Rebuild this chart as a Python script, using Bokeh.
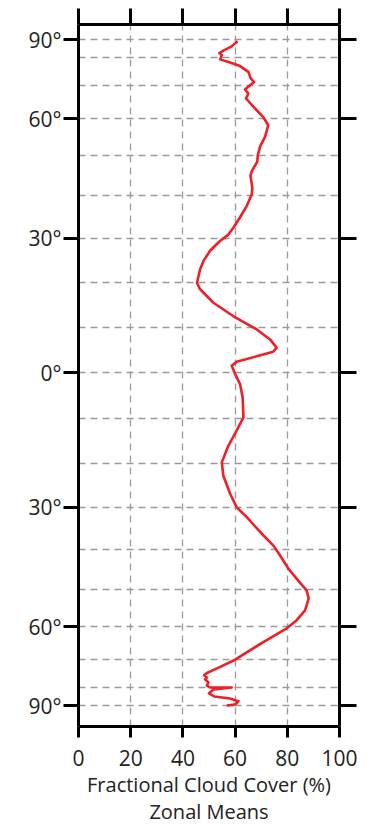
import numpy as np
from bokeh.plotting import figure
from bokeh.models import Range1d, FixedTicker, LinearAxis, Title
from bokeh.embed import file_html
from bokeh.resources import INLINE

# ---- data: latitude (deg, + north) and zonal mean fractional cloud cover (%) ----
latitude = [88.5, 87.0, 85.3, 83.2, 82.1, 81.1, 79.4, 78.2, 76.8, 74.7, 72.4, 71.2, 70.0,
            68.8, 67.5, 66.0, 63.5, 60.5, 58.2, 55.1, 52.5, 50.2, 48.5, 46.1, 44.9, 42.0,
            40.4, 37.6, 34.9, 32.5, 30.7, 29.4, 27.1, 24.8, 22.9, 19.8, 18.4, 15.4, 12.4,
            9.5, 7.3, 5.5, 4.6, 3.6, 2.4, 1.5, 0.0, -2.5, -5.5, -9.8, -12.7, -16.1, -19.8,
            -22.8, -26.9, -30.0, -32.3, -35.8, -39.0, -41.4, -44.7, -47.7, -50.2, -52.3,
            -55.5, -58.2, -60.5, -64.5, -70.0, -72.4, -74.5, -75.3, -76.1, -76.8, -78.0,
            -79.2, -80.0, -80.0, -80.8, -82.5, -84.0, -85.0, -86.5, -88.0, -89.0, -89.6]
cloud_cover = [61.0, 60.0, 58.7, 55.5, 54.0, 54.9, 54.3, 58.1, 61.9, 65.1, 66.0, 67.3, 65.5,
               63.8, 65.1, 64.2, 67.0, 70.8, 72.7, 71.5, 69.6, 68.7, 68.5, 66.4, 65.9, 66.6,
               66.4, 64.5, 61.9, 59.4, 57.2, 54.3, 50.4, 47.9, 46.6, 45.4, 46.6, 51.7, 59.4,
               68.3, 73.4, 75.9, 74.6, 68.3, 60.6, 58.7, 59.8, 61.9, 62.9, 63.2, 60.6, 57.4, 54.9,
               55.5, 58.1, 60.6, 64.5, 69.6, 74.6, 77.2, 80.4, 84.2, 87.4, 88.2,
               86.8, 83.6, 79.8, 70.8, 60.0, 54.3, 49.2, 48.1, 49.2, 48.5, 49.8,
               49.2, 50.4, 58.7, 51.7, 50.0, 52.0, 58.0, 61.3, 60.5, 59.3, 56.8]

lat_ticks = [90, 60, 30, 0, -30, -60, -90]
lat_tick_labels = ["90°", "60°", "30°", "0°", "30°", "60°", "90°"]
lat_grid = list(range(-90, 91, 10))
x_ticks = [0, 20, 40, 60, 80, 100]
x_grid = [20, 40, 60, 80]
x_title_lines = ["Fractional Cloud Cover (%)", "Zonal Means"]


def mollweide(lat_deg):
    """Mollweide projection y (= sin(theta)) for latitudes in degrees."""
    out = []
    for la in np.atleast_1d(lat_deg):
        target = np.pi * np.sin(np.radians(la))
        lo, hi = -np.pi, np.pi
        for _ in range(80):
            mid = 0.5 * (lo + hi)
            if mid + np.sin(mid) < target:
                lo = mid
            else:
                hi = mid
        out.append(float(np.sin(0.25 * (lo + hi))))
    return out


y_vals = mollweide(latitude)
y_ticks = mollweide(lat_ticks)
y_grid = mollweide(lat_grid)

p = figure(width=367, height=825, output_backend="svg", toolbar_location=None,
           x_range=Range1d(0, 100), y_range=Range1d(-1.0625, 1.0457),
           x_axis_location=None, y_axis_location=None,
           min_border_left=78, min_border_right=28, min_border_top=24, min_border_bottom=99)
p.outline_line_color = None
p.background_fill_color = "white"
p.border_fill_color = "white"

FONT = "Open Sans"
TXT = "#222222"

# bottom axis
xb = LinearAxis(ticker=FixedTicker(ticks=x_ticks))
xb.major_label_text_font = FONT
xb.major_label_text_font_size = "21px"
xb.major_label_text_color = TXT
xb.major_label_standoff = 12
# top axis (ticks only)
xt = LinearAxis(ticker=FixedTicker(ticks=x_ticks))
xt.major_label_overrides = {t: "" for t in x_ticks}
xt.major_label_text_font_size = "1px"
xt.major_label_standoff = 0
# left axis
yl = LinearAxis(ticker=FixedTicker(ticks=y_ticks))
yl.major_label_overrides = {t: s for t, s in zip(y_ticks, lat_tick_labels)}
yl.major_label_text_font = FONT
yl.major_label_text_font_size = "21px"
yl.major_label_text_color = TXT
yl.major_label_standoff = 2
# right axis (ticks only)
yr = LinearAxis(ticker=FixedTicker(ticks=y_ticks))
yr.major_label_overrides = {t: "" for t in y_ticks}
yr.major_label_text_font_size = "1px"
yr.major_label_standoff = 0

for ax, tout in ((xb, 11), (xt, 16), (yl, 15), (yr, 17)):
    ax.axis_line_width = 3
    ax.axis_line_color = "black"
    ax.major_tick_line_width = 3
    ax.major_tick_line_color = "black"
    ax.major_tick_out = tout
    ax.major_tick_in = 0
    ax.minor_tick_line_color = None

p.add_layout(xb, "below")
for line, so in zip(x_title_lines, (1, -6)):
    p.add_layout(Title(text=line, align="center", text_font=FONT, text_font_size="20px",
                       text_font_style="normal", text_color=TXT, standoff=so, offset=0), "below")
p.add_layout(xt, "above")
p.add_layout(yl, "left")
p.add_layout(yr, "right")

p.xgrid.ticker = FixedTicker(ticks=x_grid)
p.ygrid.ticker = FixedTicker(ticks=y_grid)
for g in (p.xgrid, p.ygrid):
    g.grid_line_color = "#9a9a9a"
    g.grid_line_dash = "7 5"
    g.grid_line_width = 1.3

p.line(cloud_cover, y_vals, line_color="#ee1f26", line_width=2.6, line_join="round")

open("out.html", "w").write(file_html(p, INLINE))
